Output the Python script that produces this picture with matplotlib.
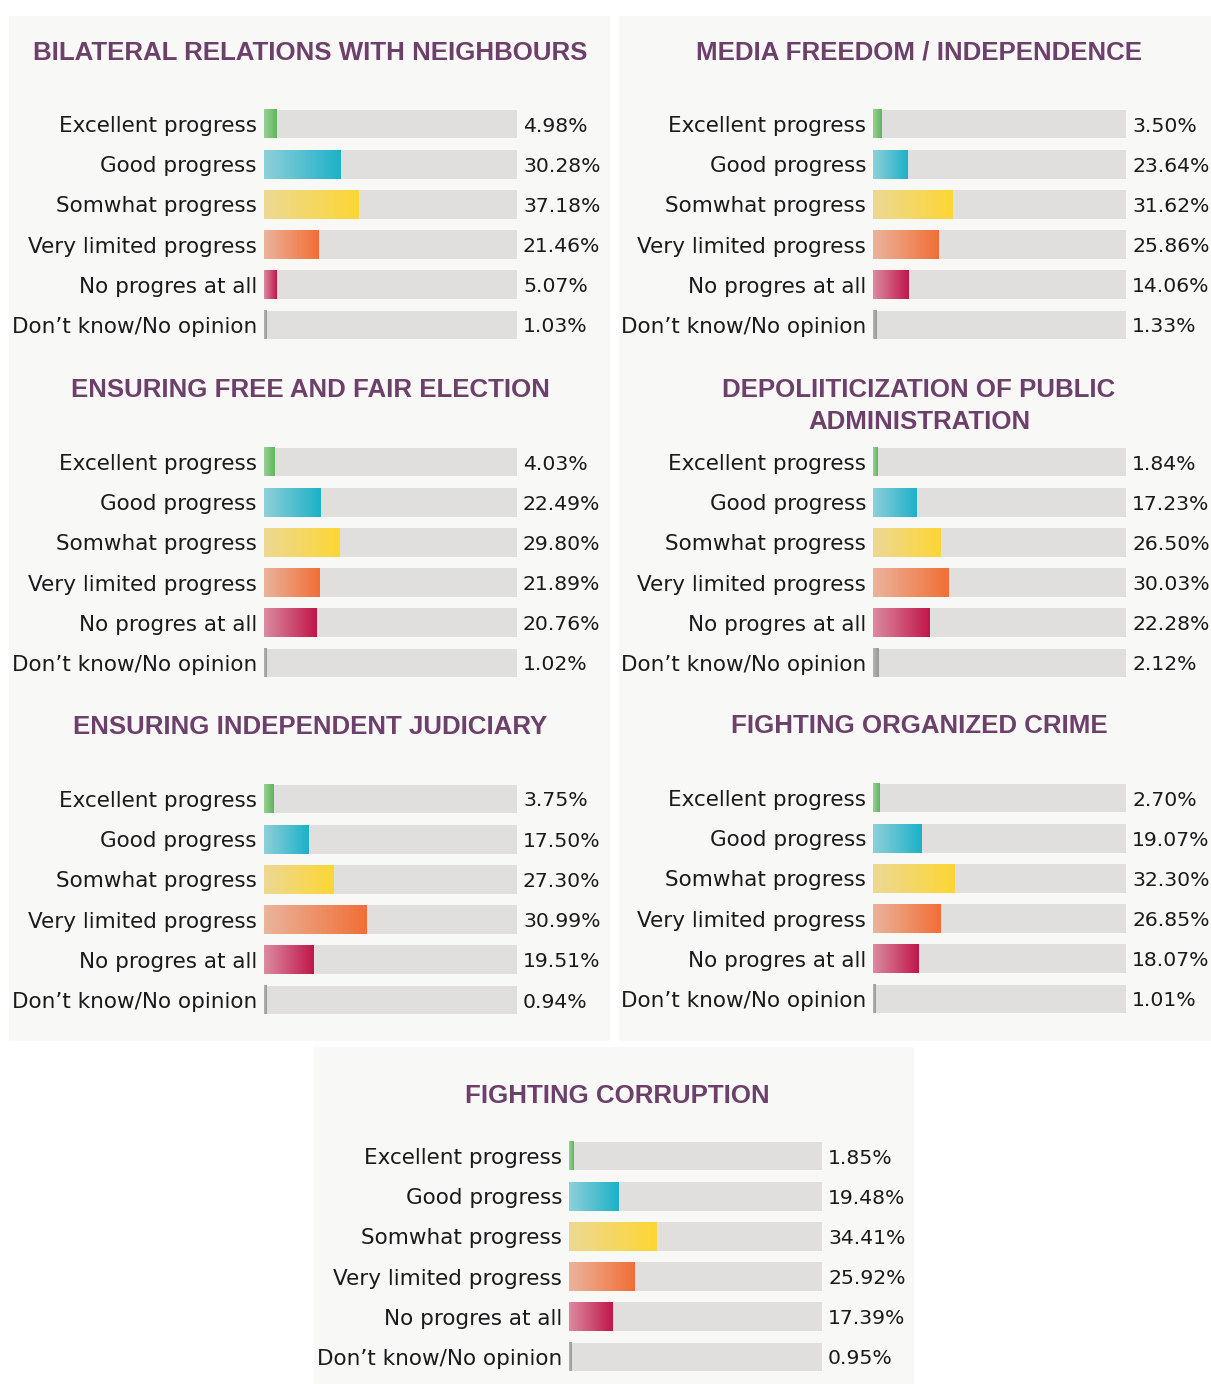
import numpy as np
import matplotlib
matplotlib.use("Agg")
import matplotlib.pyplot as plt
from matplotlib.colors import LinearSegmentedColormap
from matplotlib.patches import Rectangle

# -----------------------------
# Data
# -----------------------------
categories = ["Excellent progress", "Good progress", "Somwhat progress",
              "Very limited progress", "No progres at all", "Don\u2019t know/No opinion"]

bilateral = [4.98, 30.28, 37.18, 21.46, 5.07, 1.03]
media = [3.50, 23.64, 31.62, 25.86, 14.06, 1.33]
election = [4.03, 22.49, 29.80, 21.89, 20.76, 1.02]
depol = [1.84, 17.23, 26.50, 30.03, 22.28, 2.12]
judiciary = [3.75, 17.50, 27.30, 30.99, 19.51, 0.94]
crime = [2.70, 19.07, 32.30, 26.85, 18.07, 1.01]
corruption = [1.85, 19.48, 34.41, 25.92, 17.39, 0.95]

# bar lengths as drawn in the original (two bars there don't match their labels)
media_bars = [3.50, 13.8, 31.62, 25.86, 14.06, 1.33]
judiciary_bars = [3.75, 17.50, 27.30, 40.5, 19.51, 0.94]

titles = ["BILATERAL RELATIONS WITH NEIGHBOURS", "MEDIA FREEDOM / INDEPENDENCE",
          "ENSURING FREE AND FAIR ELECTION", "DEPOLIITICIZATION OF PUBLIC\nADMINISTRATION",
          "ENSURING INDEPENDENT JUDICIARY", "FIGHTING ORGANIZED CRIME",
          "FIGHTING CORRUPTION"]

# gradient (light -> strong) for each category
grad_colors = [("#9ccf95", "#5db65c"), ("#8fd0d8", "#1cb1c8"), ("#ecd995", "#fdd634"),
               ("#eab49d", "#f16f36"), ("#da8ca1", "#c0164a"), ("#b4b4b4", "#999999")]

W, H = 1211, 1384
TITLE_C = "#6d3f6b"
TRACK_C = "#e0dfdd"
PANEL_C = "#f8f8f6"
ROW = 40.2

plt.rcParams["font.family"] = ["DejaVu Sans"]

fig = plt.figure(figsize=(W / 100, H / 100), dpi=100)
fig.patch.set_facecolor("white")

# panel backgrounds (pixel boxes)
for x0, y0, w, h in [(9, 16, 601, 1025), (619, 16, 592, 1025), (314, 1047, 600, 337)]:
    fig.patches.append(Rectangle((x0 / W, 1 - (y0 + h) / H), w / W, h / H,
                                 transform=fig.transFigure, facecolor=PANEL_C,
                                 edgecolor="none", zorder=-5))

# (title, label values, bar lengths, track left, first row y, title x, title y)
panels = [
    (titles[0], bilateral, bilateral, 264, 124, 310, 53),
    (titles[1], media, media_bars, 873, 124, 919, 53),
    (titles[2], election, election, 264, 462, 310, 390),
    (titles[3], depol, depol, 873, 462, 919, 406),
    (titles[4], judiciary, judiciary_bars, 264, 799, 310, 727),
    (titles[5], crime, crime, 873, 798, 919, 726),
    (titles[6], corruption, corruption, 569, 1156, 617, 1096),
]

track_w = 253
bar_h = 0.72
grad = np.linspace(0, 1, 256).reshape(1, -1)

for title, vals, bars, tx, ry, ttx, tty in panels:
    top = ry - ROW / 2
    hgt = ROW * len(categories)
    ax = fig.add_axes([tx / W, 1 - (top + hgt) / H, track_w / W, hgt / H])
    ax.set_facecolor("none")
    y = np.arange(len(categories))
    ax.barh(y, [100] * len(y), height=bar_h, color=TRACK_C, zorder=1)
    for i, (v, b) in enumerate(zip(vals, bars)):
        cmap = LinearSegmentedColormap.from_list("g%d" % i, grad_colors[i])
        ax.imshow(grad, cmap=cmap, aspect="auto", interpolation="bilinear",
                  extent=(0, b, i + bar_h / 2, i - bar_h / 2), zorder=2)
        ax.annotate(categories[i], (0, i), xytext=(-7, -2), textcoords="offset pixels",
                    ha="right", va="center", fontsize=15.5, color="#1a1a1a",
                    annotation_clip=False)
        ax.annotate("%.2f%%" % v, (100, i), xytext=(6, -2), textcoords="offset pixels",
                    ha="left", va="center", fontsize=14.7, color="#1a1a1a",
                    annotation_clip=False)
    ax.set_xlim(0, 100)
    ax.set_ylim(len(categories) - 0.5, -0.5)
    ax.axis("off")
    fig.text(ttx / W, 1 - tty / H, title, ha="center", va="center", fontsize=18.6,
             fontweight="bold", color=TITLE_C, family="Liberation Sans",
             linespacing=1.4)

fig.savefig("out.png", dpi=100)
